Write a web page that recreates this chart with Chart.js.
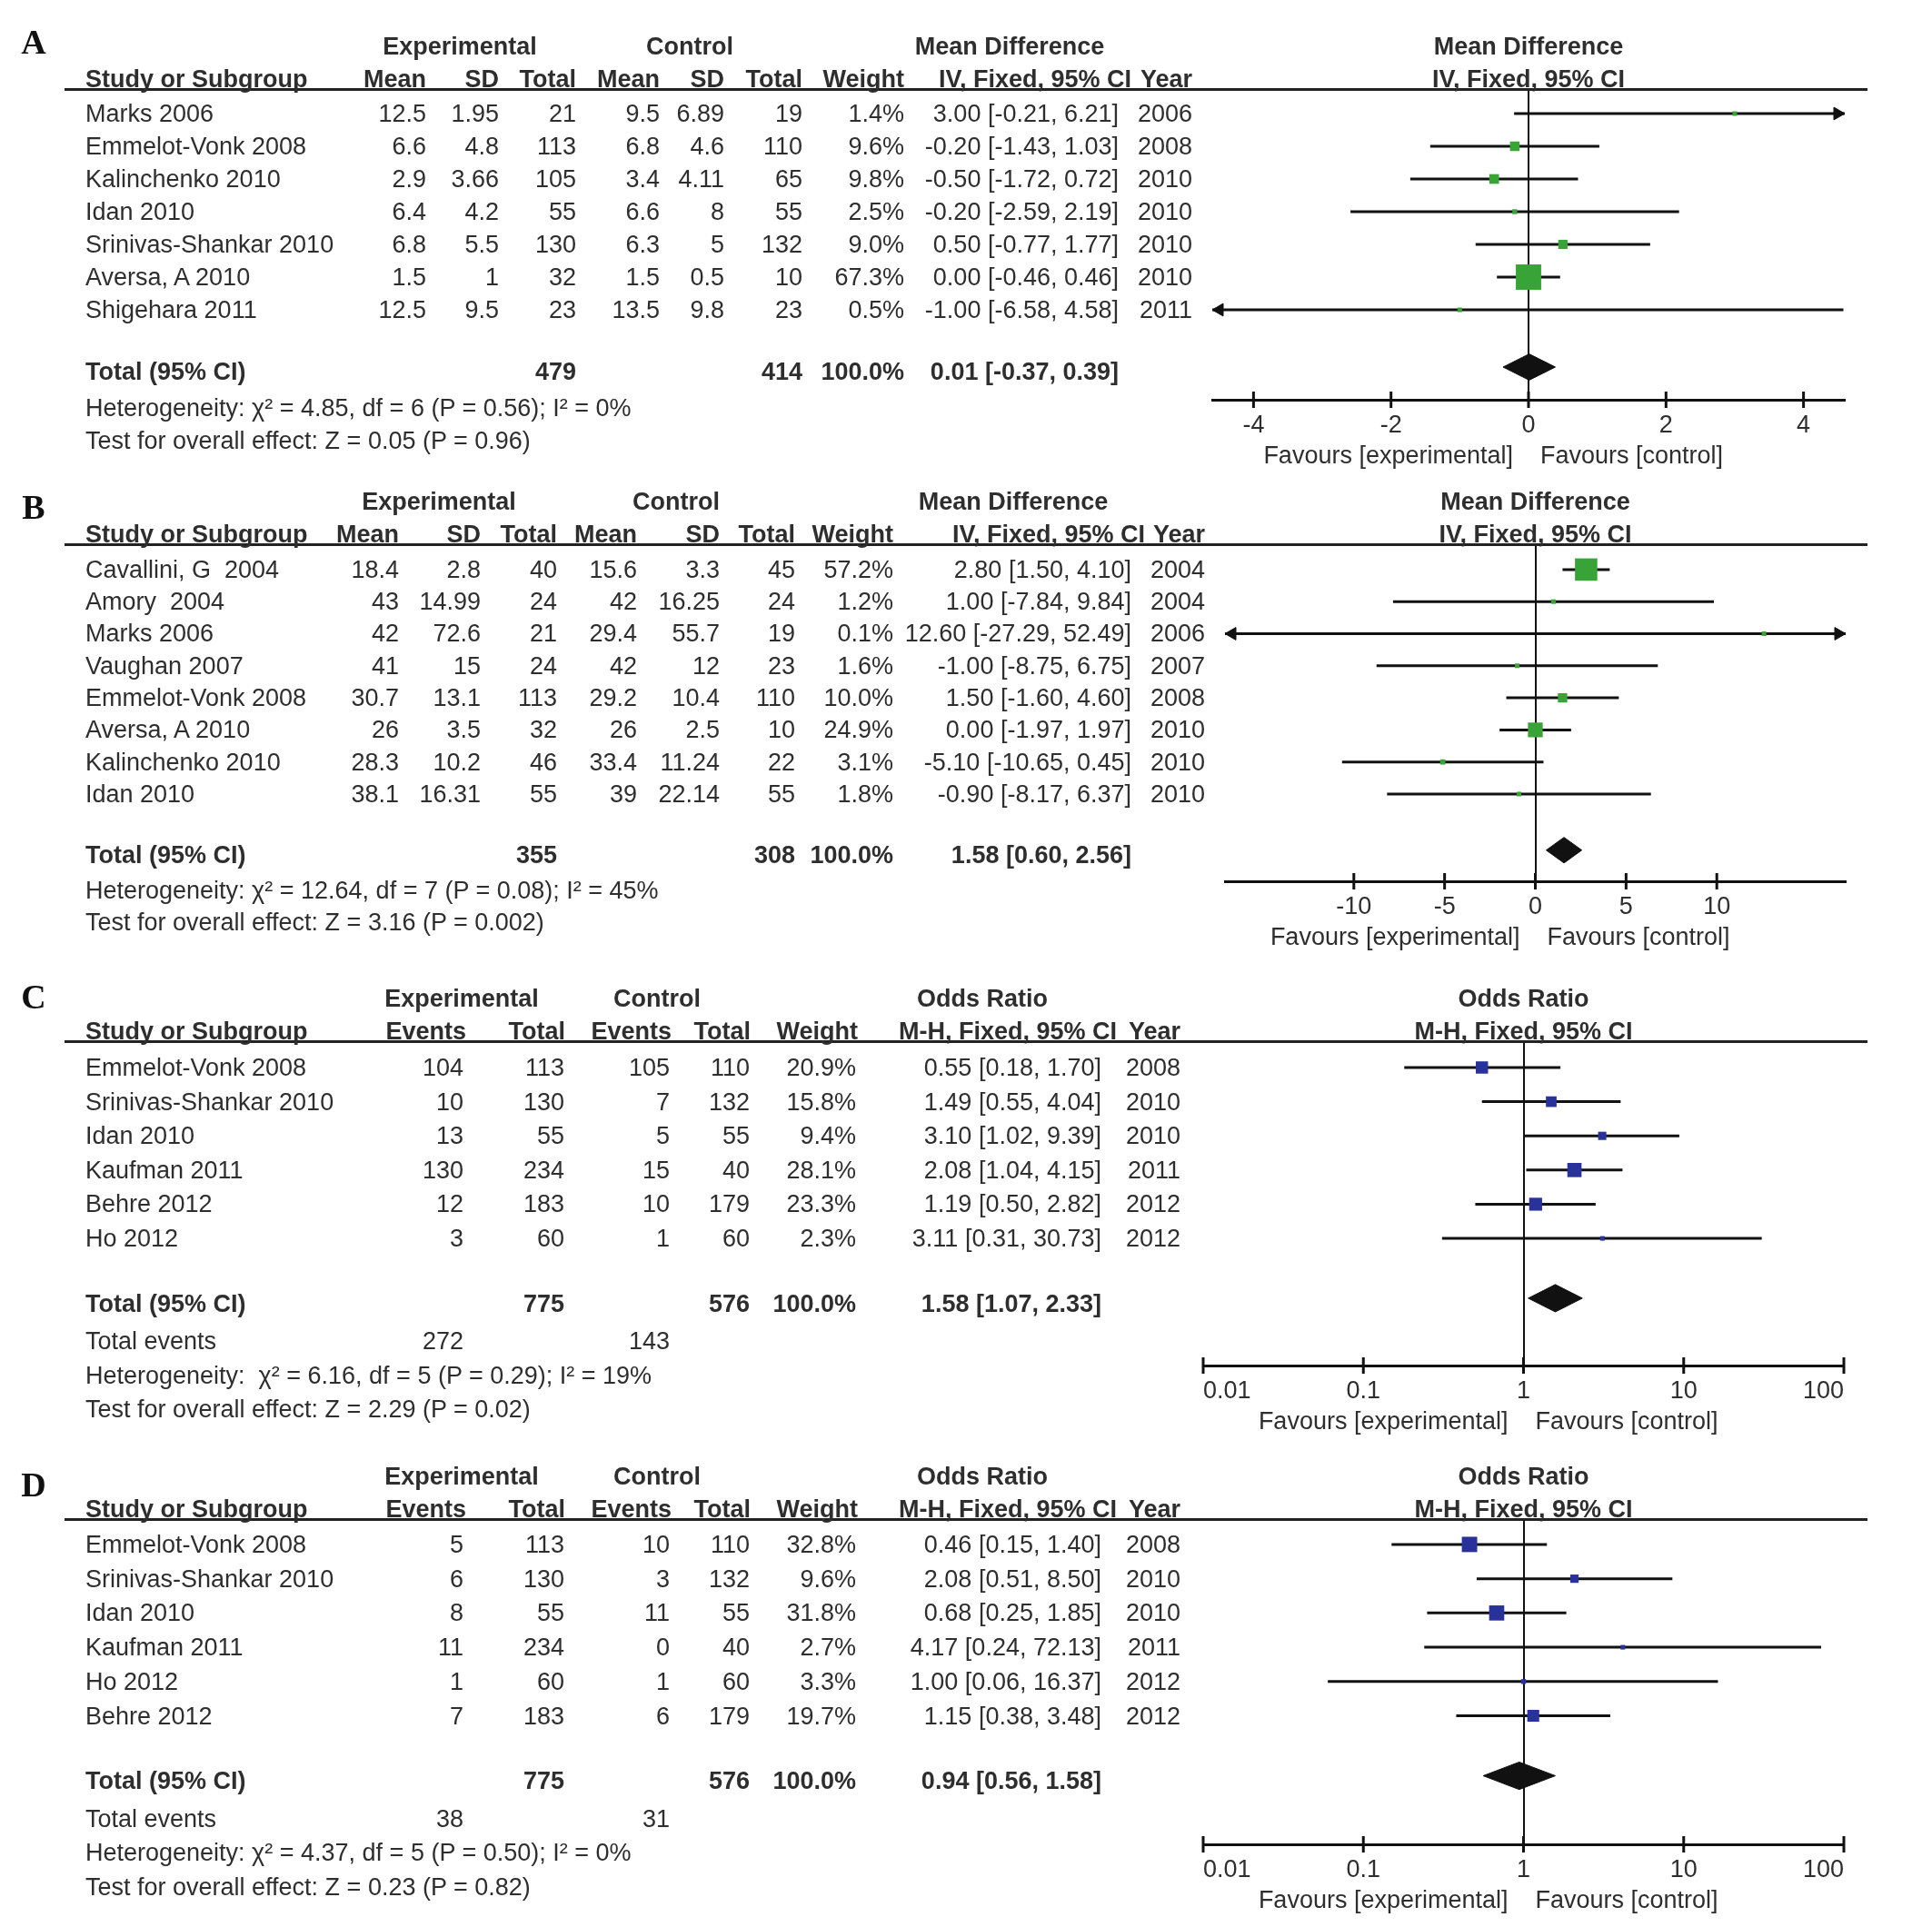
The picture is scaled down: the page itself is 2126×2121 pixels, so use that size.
<!DOCTYPE html>
<html>
<head>
<meta charset="utf-8">
<script src="https://cdn.jsdelivr.net/npm/chart.js@4.4.1/dist/chart.umd.min.js"></script>
<style>
  html, body { margin: 0; padding: 0; background: #fff; }
  #page { position: relative; width: 2126px; height: 2121px; overflow: hidden;
          font-family: "Liberation Sans", Arial, Helvetica, sans-serif; font-size: 27px; color: #2e2e2e; }
  .panel { position: absolute; left: 0; width: 2126px; }
  .panel canvas { position: absolute; left: 0; top: 0; }
  .t { position: absolute; white-space: pre; line-height: 30px; }
  .b { font-weight: bold; }
  .lbl { position: absolute; font-family: "Liberation Serif", "Times New Roman", serif; font-weight: bold;
         font-size: 38px; line-height: 40px; color: #111; transform: translate(-50%, -50%); }
  .rule { position: absolute; height: 3px; background: #222; }
</style>
</head>
<body>
<div id="page"></div>
<script>
const FONT = '"Liberation Sans", Arial, Helvetica, sans-serif';
const TEXT = '#2e2e2e';
const INK = '#111111';
const AXIS_H = 50;
const ARROW_R = 8;

// A: mean difference (continuous outcome)
const studiesA = ['Marks 2006', 'Emmelot-Vonk 2008', 'Kalinchenko 2010', 'Idan 2010', 'Srinivas-Shankar 2010', 'Aversa, A 2010', 'Shigehara 2011'];
const expMeanA = [12.5, 6.6, 2.9, 6.4, 6.8, 1.5, 12.5];
const expSdA = [1.95, 4.8, 3.66, 4.2, 5.5, 1, 9.5];
const expTotalA = [21, 113, 105, 55, 130, 32, 23];
const ctlMeanA = [9.5, 6.8, 3.4, 6.6, 6.3, 1.5, 13.5];
const ctlSdA = [6.89, 4.6, 4.11, 8, 5, 0.5, 9.8];
const ctlTotalA = [19, 110, 65, 55, 132, 10, 23];
const weightA = [1.4, 9.6, 9.8, 2.5, 9.0, 67.3, 0.5];
const mdA = [3.00, -0.20, -0.50, -0.20, 0.50, 0.00, -1.00];
const loA = [-0.21, -1.43, -1.72, -2.59, -0.77, -0.46, -6.58];
const hiA = [6.21, 1.03, 0.72, 2.19, 1.77, 0.46, 4.58];
const yearA = [2006, 2008, 2010, 2010, 2010, 2010, 2011];
const totalA = [0.01, -0.37, 0.39];
const tickValuesA = [-4, -2, 0, 2, 4];
const tickLabelsA = ['-4', '-2', '0', '2', '4'];
const hetA = 'Heterogeneity: χ² = 4.85, df = 6 (P = 0.56); I² = 0%';
const testA = 'Test for overall effect: Z = 0.05 (P = 0.96)';

// B: mean difference
const studiesB = ['Cavallini, G  2004', 'Amory  2004', 'Marks 2006', 'Vaughan 2007', 'Emmelot-Vonk 2008', 'Aversa, A 2010', 'Kalinchenko 2010', 'Idan 2010'];
const expMeanB = [18.4, 43, 42, 41, 30.7, 26, 28.3, 38.1];
const expSdB = [2.8, 14.99, 72.6, 15, 13.1, 3.5, 10.2, 16.31];
const expTotalB = [40, 24, 21, 24, 113, 32, 46, 55];
const ctlMeanB = [15.6, 42, 29.4, 42, 29.2, 26, 33.4, 39];
const ctlSdB = [3.3, 16.25, 55.7, 12, 10.4, 2.5, 11.24, 22.14];
const ctlTotalB = [45, 24, 19, 23, 110, 10, 22, 55];
const weightB = [57.2, 1.2, 0.1, 1.6, 10.0, 24.9, 3.1, 1.8];
const mdB = [2.80, 1.00, 12.60, -1.00, 1.50, 0.00, -5.10, -0.90];
const loB = [1.50, -7.84, -27.29, -8.75, -1.60, -1.97, -10.65, -8.17];
const hiB = [4.10, 9.84, 52.49, 6.75, 4.60, 1.97, 0.45, 6.37];
const yearB = [2004, 2004, 2006, 2007, 2008, 2010, 2010, 2010];
const totalB = [1.58, 0.60, 2.56];
const tickValuesB = [-10, -5, 0, 5, 10];
const tickLabelsB = ['-10', '-5', '0', '5', '10'];
const hetB = 'Heterogeneity: χ² = 12.64, df = 7 (P = 0.08); I² = 45%';
const testB = 'Test for overall effect: Z = 3.16 (P = 0.002)';

// C: odds ratio (events)
const studiesC = ['Emmelot-Vonk 2008', 'Srinivas-Shankar 2010', 'Idan 2010', 'Kaufman 2011', 'Behre 2012', 'Ho 2012'];
const expEventsC = [104, 10, 13, 130, 12, 3];
const expTotalC = [113, 130, 55, 234, 183, 60];
const ctlEventsC = [105, 7, 5, 15, 10, 1];
const ctlTotalC = [110, 132, 55, 40, 179, 60];
const weightC = [20.9, 15.8, 9.4, 28.1, 23.3, 2.3];
const orC = [0.55, 1.49, 3.10, 2.08, 1.19, 3.11];
const loC = [0.18, 0.55, 1.02, 1.04, 0.50, 0.31];
const hiC = [1.70, 4.04, 9.39, 4.15, 2.82, 30.73];
const yearC = [2008, 2010, 2010, 2011, 2012, 2012];
const totalC = [1.58, 1.07, 2.33];
const tickValuesOR = [0.01, 0.1, 1, 10, 100];
const tickLabelsOR = ['0.01', '0.1', '1', '10', '100'];
const hetC = 'Heterogeneity:  χ² = 6.16, df = 5 (P = 0.29); I² = 19%';
const testC = 'Test for overall effect: Z = 2.29 (P = 0.02)';

// D: odds ratio (events)
const studiesD = ['Emmelot-Vonk 2008', 'Srinivas-Shankar 2010', 'Idan 2010', 'Kaufman 2011', 'Ho 2012', 'Behre 2012'];
const expEventsD = [5, 6, 8, 11, 1, 7];
const expTotalD = [113, 130, 55, 234, 60, 183];
const ctlEventsD = [10, 3, 11, 0, 1, 6];
const ctlTotalD = [110, 132, 55, 40, 60, 179];
const weightD = [32.8, 9.6, 31.8, 2.7, 3.3, 19.7];
const orD = [0.46, 2.08, 0.68, 4.17, 1.00, 1.15];
const loD = [0.15, 0.51, 0.25, 0.24, 0.06, 0.38];
const hiD = [1.40, 8.50, 1.85, 72.13, 16.37, 3.48];
const yearD = [2008, 2010, 2010, 2011, 2012, 2012];
const totalD = [0.94, 0.56, 1.58];
const hetD = 'Heterogeneity: χ² = 4.37, df = 5 (P = 0.50); I² = 0%';
const testD = 'Test for overall effect: Z = 0.23 (P = 0.82)';

const page = document.getElementById('page');
const sum = a => a.reduce((s, v) => s + v, 0);
const ci = (e, l, h) => `${e.toFixed(2)} [${l.toFixed(2)}, ${h.toFixed(2)}]`;
const pct = w => w.toFixed(1) + '%';

function put(wrap, str, x, y, align, bold) {
  const d = document.createElement('div');
  d.className = 't' + (bold ? ' b' : '');
  d.textContent = str;
  d.style.left = x + 'px';
  d.style.top = y + 'px';
  const tx = align === 'right' ? '-100%' : align === 'center' ? '-50%' : '0';
  d.style.transform = `translate(${tx}, -50%)`;
  wrap.appendChild(d);
}

function drawPanel(p) {
  const wrap = document.createElement('div');
  wrap.className = 'panel';
  wrap.style.top = p.top + 'px';
  wrap.style.height = p.height + 'px';
  page.appendChild(wrap);
  const cv = document.createElement('canvas');
  cv.width = 2126;
  cv.height = p.height;
  cv.style.width = '2126px';
  cv.style.height = p.height + 'px';
  wrap.appendChild(cv);

  const n = p.est.length;
  const totalRow = n + 1;
  const diamondRow = totalRow - 0.25;   // diamond sits a little above the total text
  const datasets = [];

  // weight boxes
  datasets.push({
    data: p.est.map((e, i) => ({ x: e, y: i })),
    pointStyle: 'rect',
    pointRadius: p.weight.map(w => Math.max(5, p.boxK * Math.sqrt(w)) / Math.SQRT2),
    backgroundColor: p.color, borderWidth: 0, order: 0
  });
  // pooled diamond
  datasets.push({
    data: [
      { x: p.total[1], y: diamondRow }, { x: p.total[0], y: diamondRow - 0.4 },
      { x: p.total[2], y: diamondRow }, { x: p.total[0], y: diamondRow + 0.4 },
      { x: p.total[1], y: diamondRow }
    ],
    showLine: true, fill: 'shape', backgroundColor: INK, borderColor: INK,
    borderWidth: 1, pointRadius: 0, order: 1
  });
  // arrows where the CI runs off the axis (tip sits on the axis end)
  const inset = ARROW_R * (p.xMax - p.xMin) / (p.areaRight - p.areaLeft);
  const arrows = [], rot = [];
  p.lo.forEach((l, i) => {
    if (l < p.xMin) { arrows.push({ x: p.xMin + inset, y: i }); rot.push(-90); }
    if (p.hi[i] > p.xMax) { arrows.push({ x: p.xMax - inset, y: i }); rot.push(90); }
  });
  if (arrows.length) {
    datasets.push({
      data: arrows, pointStyle: 'triangle', pointRotation: rot, pointRadius: ARROW_R,
      backgroundColor: INK, borderColor: INK, pointBorderWidth: 1, clip: false, order: 2
    });
  }
  // tick marks crossing the axis line
  datasets.push({
    data: p.tickValues.map(v => ({ x: v, y: p.yMax })),
    pointStyle: 'line', pointRotation: 90, pointRadius: 9, pointBorderWidth: 3,
    borderColor: INK, clip: false, order: 3
  });
  // confidence intervals
  p.lo.forEach((l, i) => {
    datasets.push({
      data: [{ x: l, y: i }, { x: p.hi[i], y: i }],
      showLine: true, borderColor: INK, borderWidth: 3, pointRadius: 0, order: 5
    });
  });

  const chart = new Chart(cv.getContext('2d'), {
    type: 'scatter',
    data: { datasets },
    options: {
      responsive: false,
      animation: false,
      events: [],
      layout: {
        padding: {
          left: p.areaLeft, right: 2126 - p.areaRight,
          top: p.areaTop - p.top,
          bottom: p.height - (p.areaBottom - p.top) - AXIS_H
        }
      },
      plugins: { legend: { display: false }, tooltip: { enabled: false } },
      scales: {
        x: {
          type: p.xType, min: p.xMin, max: p.xMax,
          afterBuildTicks: s => { s.ticks = p.tickValues.map(v => ({ value: v })); },
          afterFit: s => { s.height = AXIS_H; },
          grid: {
            drawTicks: false, lineWidth: 2,
            color: c => (c.tick && c.tick.value === p.nullValue) ? INK : 'rgba(0,0,0,0)'
          },
          border: { display: true, color: INK, width: 3 },
          ticks: {
            font: { family: FONT, size: 27 }, color: TEXT, padding: 12,
            align: p.tickAlign, maxRotation: 0, autoSkip: false,
            callback: (v, i) => p.tickLabels[i]
          }
        },
        y: { type: 'linear', reverse: true, min: p.yMin, max: p.yMax, display: false }
      }
    }
  });

  const area = chart.chartArea;
  const rowY = v => chart.scales.y.getPixelForValue(v);
  const nullPx = chart.scales.x.getPixelForValue(p.nullValue);

  // header rule
  const rule = document.createElement('div');
  rule.className = 'rule';
  rule.style.left = '71px';
  rule.style.width = (2055 - 71) + 'px';
  rule.style.top = (area.top - 1.5) + 'px';
  wrap.appendChild(rule);

  // panel letter
  const lbl = document.createElement('div');
  lbl.className = 'lbl';
  lbl.textContent = p.letter;
  lbl.style.left = '37px';
  lbl.style.top = p.letterY + 'px';
  wrap.appendChild(lbl);

  // headers
  const h1 = area.top - 47, h2 = area.top - 11;
  p.head1.forEach(([s, x]) => put(wrap, s, x, h1, 'center', true));
  put(wrap, p.effectTitle, nullPx, h1, 'center', true);
  put(wrap, p.effectSub, nullPx, h2, 'center', true);
  p.head2.forEach((s, k) => put(wrap, s, p.head2X[k], h2, k === 0 ? 'left' : 'right', true));

  // study rows
  p.rows.forEach((cells, i) => {
    cells.forEach((s, k) => put(wrap, s, p.colX[k], rowY(i), k === 0 ? 'left' : 'right', false));
  });
  // total row
  p.totalCells.forEach((s, k) => { if (s) put(wrap, s, p.colX[k], rowY(totalRow - 0.1), k === 0 ? 'left' : 'right', true); });
  // footer lines
  let r = totalRow + 1;
  if (p.eventsCells) {
    p.eventsCells.forEach((s, k) => { if (s) put(wrap, s, p.colX[k], rowY(r), k === 0 ? 'left' : 'right', false); });
    r++;
  }
  put(wrap, p.het, 94, rowY(r), 'left', false);
  put(wrap, p.test, 94, rowY(r + 1), 'left', false);

  // favours labels
  const fy = area.bottom + 61;
  put(wrap, 'Favours [experimental]', nullPx - 17, fy, 'right', false);
  put(wrap, 'Favours [control]', nullPx + 13, fy, 'left', false);
}

const mdHead = ['Study or Subgroup', 'Mean', 'SD', 'Total', 'Mean', 'SD', 'Total', 'Weight', 'IV, Fixed, 95% CI', 'Year'];
const orHead = ['Study or Subgroup', 'Events', 'Total', 'Events', 'Total', 'Weight', 'M-H, Fixed, 95% CI', 'Year'];

drawPanel({
  letter: 'A', letterY: 46, top: 0, height: 530,
  areaTop: 98, areaBottom: 440, areaLeft: 1334, areaRight: 2030,
  yMin: -0.75, yMax: 8.75,
  xType: 'linear', xMin: -4.6, xMax: 4.6, nullValue: 0,
  tickValues: tickValuesA, tickLabels: tickLabelsA, tickAlign: 'center',
  color: '#38a438', boxK: 3.4,
  est: mdA, lo: loA, hi: hiA, weight: weightA, total: totalA,
  head1: [['Experimental', 506], ['Control', 759], ['Mean Difference', 1111]],
  effectTitle: 'Mean Difference', effectSub: 'IV, Fixed, 95% CI',
  head2: mdHead, head2X: [94, 469, 549, 634, 726, 797, 883, 995, 1245, 1312],
  colX: [94, 469, 549, 634, 726, 797, 883, 995, 1231, 1312],
  rows: studiesA.map((s, i) => [s, String(expMeanA[i]), String(expSdA[i]), String(expTotalA[i]),
    String(ctlMeanA[i]), String(ctlSdA[i]), String(ctlTotalA[i]), pct(weightA[i]),
    ci(mdA[i], loA[i], hiA[i]), String(yearA[i])]),
  totalCells: ['Total (95% CI)', '', '', String(sum(expTotalA)), '', '', String(sum(ctlTotalA)), '100.0%', ci(...totalA), ''],
  het: hetA, test: testA
});

drawPanel({
  letter: 'B', letterY: 28, top: 530, height: 545,
  areaTop: 599, areaBottom: 970, areaLeft: 1348, areaRight: 2031,
  yMin: -0.79, yMax: 9.72,
  xType: 'linear', xMin: -17.1, xMax: 17.1, nullValue: 0,
  tickValues: tickValuesB, tickLabels: tickLabelsB, tickAlign: 'center',
  color: '#38a438', boxK: 3.25,
  est: mdB, lo: loB, hi: hiB, weight: weightB, total: totalB,
  head1: [['Experimental', 483], ['Control', 744], ['Mean Difference', 1115]],
  effectTitle: 'Mean Difference', effectSub: 'IV, Fixed, 95% CI',
  head2: mdHead, head2X: [94, 439, 529, 613, 701, 792, 875, 983, 1260, 1326],
  colX: [94, 439, 529, 613, 701, 792, 875, 983, 1245, 1326],
  rows: studiesB.map((s, i) => [s, String(expMeanB[i]), String(expSdB[i]), String(expTotalB[i]),
    String(ctlMeanB[i]), String(ctlSdB[i]), String(ctlTotalB[i]), pct(weightB[i]),
    ci(mdB[i], loB[i], hiB[i]), String(yearB[i])]),
  totalCells: ['Total (95% CI)', '', '', String(sum(expTotalB)), '', '', String(sum(ctlTotalB)), '100.0%', ci(...totalB), ''],
  het: hetB, test: testB
});

drawPanel({
  letter: 'C', letterY: 22, top: 1075, height: 525,
  areaTop: 1146, areaBottom: 1503, areaLeft: 1324, areaRight: 2029,
  yMin: -0.77, yMax: 8.72,
  xType: 'logarithmic', xMin: 0.01, xMax: 100, nullValue: 1,
  tickValues: tickValuesOR, tickLabels: tickLabelsOR, tickAlign: 'inner',
  color: '#28329a', boxK: 2.95,
  est: orC, lo: loC, hi: hiC, weight: weightC, total: totalC,
  head1: [['Experimental', 508], ['Control', 723], ['Odds Ratio', 1081]],
  effectTitle: 'Odds Ratio', effectSub: 'M-H, Fixed, 95% CI',
  head2: orHead, head2X: [94, 513, 622, 739, 826, 944, 1229, 1299],
  colX: [94, 510, 621, 737, 825, 942, 1212, 1299],
  rows: studiesC.map((s, i) => [s, String(expEventsC[i]), String(expTotalC[i]), String(ctlEventsC[i]),
    String(ctlTotalC[i]), pct(weightC[i]), ci(orC[i], loC[i], hiC[i]), String(yearC[i])]),
  totalCells: ['Total (95% CI)', '', String(sum(expTotalC)), '', String(sum(ctlTotalC)), '100.0%', ci(...totalC), ''],
  eventsCells: ['Total events', String(sum(expEventsC)), '', String(sum(ctlEventsC))],
  het: hetC, test: testC
});

drawPanel({
  letter: 'D', letterY: 34, top: 1600, height: 521,
  areaTop: 1672, areaBottom: 2030, areaLeft: 1324, areaRight: 2029,
  yMin: -0.74, yMax: 8.75,
  xType: 'logarithmic', xMin: 0.01, xMax: 100, nullValue: 1,
  tickValues: tickValuesOR, tickLabels: tickLabelsOR, tickAlign: 'inner',
  color: '#28329a', boxK: 2.95,
  est: orD, lo: loD, hi: hiD, weight: weightD, total: totalD,
  head1: [['Experimental', 508], ['Control', 723], ['Odds Ratio', 1081]],
  effectTitle: 'Odds Ratio', effectSub: 'M-H, Fixed, 95% CI',
  head2: orHead, head2X: [94, 513, 622, 739, 826, 944, 1229, 1299],
  colX: [94, 510, 621, 737, 825, 942, 1212, 1299],
  rows: studiesD.map((s, i) => [s, String(expEventsD[i]), String(expTotalD[i]), String(ctlEventsD[i]),
    String(ctlTotalD[i]), pct(weightD[i]), ci(orD[i], loD[i], hiD[i]), String(yearD[i])]),
  totalCells: ['Total (95% CI)', '', String(sum(expTotalD)), '', String(sum(ctlTotalD)), '100.0%', ci(...totalD), ''],
  eventsCells: ['Total events', String(sum(expEventsD)), '', String(sum(ctlEventsD))],
  het: hetD, test: testD
});
</script>
</body>
</html>
